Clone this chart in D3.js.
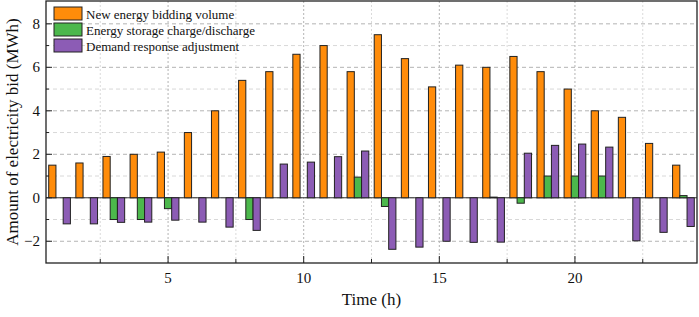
<!DOCTYPE html>
<html lang="en">
<head>
<meta charset="UTF-8">
<title>Electricity bid</title>
<script src="https://d3js.org/d3.v7.min.js"></script>
<style>
  body { margin: 0; background: #fff; }
  text { font-family: "Liberation Serif", "Times New Roman", serif; fill: #111; }
</style>
</head>
<body>
<svg id="chart" width="699" height="317"></svg>
<script>
// hours 1..24
const hours = d3.range(1, 25);
const newEnergy = [1.5, 1.6, 1.9, 2.0, 2.1, 3.0, 4.0, 5.4, 5.8, 6.6, 7.0, 5.8, 7.5, 6.4, 5.1, 6.1, 6.0, 6.5, 5.8, 5.0, 4.0, 3.7, 2.5, 1.5];
const storage = [0, 0, -1.0, -1.0, -0.5, 0, 0, -1.0, 0, 0, 0, 0.95, -0.4, 0, 0, 0, 0.03, -0.25, 1.0, 1.0, 1.0, 0, 0, 0.1];
const demand = [-1.2, -1.2, -1.13, -1.12, -1.03, -1.12, -1.35, -1.5, 1.55, 1.64, 1.89, 2.15, -2.37, -2.27, -2.0, -2.05, -2.04, 2.05, 2.41, 2.47, 2.33, -1.98, -1.59, -1.32];
const seriesNames = ["New energy bidding volume", "Energy storage charge/discharge", "Demand response adjustment"];
const seriesColors = ["#ff8c0a", "#4cb84c", "#8c5cb5"];
const xTicks = [5, 10, 15, 20];
const yTicks = [-2, 0, 2, 4, 6, 8];

const svg = d3.select("#chart");
const m = { left: 46, right: 2, top: 1, bottom: 54 };
const W = 699, H = 317;

const x = d3.scaleLinear().domain([0.5, 24.5]).range([m.left, W - m.right]);
const y = d3.scaleLinear().domain([-3, 9.05]).range([H - m.bottom, m.top]);

const g = svg.append("g");

// grid
const yMinor = d3.range(-3, 10, 1);
g.selectAll(".hgrid").data(yMinor.filter(v => v > -3 && v < 9)).enter()
  .append("line")
  .attr("x1", x(0.5)).attr("x2", x(24.5))
  .attr("y1", d => y(d)).attr("y2", d => y(d))
  .attr("stroke", d => d % 2 === 0 ? "#b4b4b4" : "#d8d8d8")
  .attr("stroke-dasharray", "4,3");

const xMinor = d3.range(2.5, 24.5, 2.5);
g.selectAll(".vgrid").data(xMinor).enter()
  .append("line")
  .attr("x1", d => x(d)).attr("x2", d => x(d))
  .attr("y1", y(-3)).attr("y2", y(9.05))
  .attr("stroke", d => d % 5 === 0 ? "#b4b4b4" : "#dadada")
  .attr("stroke-dasharray", "2,2");

// zero line
g.append("line")
  .attr("x1", x(0.5)).attr("x2", x(24.5))
  .attr("y1", y(0)).attr("y2", y(0))
  .attr("stroke", "#333").attr("stroke-width", 1);

// bars
const step = x(2) - x(1);
const bw = step * 0.8 / 3;
const allSeries = [newEnergy, storage, demand];
allSeries.forEach((vals, si) => {
  g.selectAll(".bar" + si).data(vals).enter()
    .append("rect")
    .attr("x", (d, i) => x(hours[i]) + (si - 1.5) * bw)
    .attr("width", bw)
    .attr("y", d => y(Math.max(0, d)))
    .attr("height", d => Math.abs(y(d) - y(0)))
    .attr("fill", seriesColors[si])
    .attr("stroke", "#222")
    .attr("stroke-width", 1);
});

// frame
g.append("rect")
  .attr("x", x(0.5)).attr("y", y(9.05))
  .attr("width", x(24.5) - x(0.5)).attr("height", y(-3) - y(9.05))
  .attr("fill", "none").attr("stroke", "#222").attr("stroke-width", 1.3);

// y ticks (inward)
g.selectAll(".ytick").data(yMinor.filter(v => v > -3 && v < 9)).enter()
  .append("line")
  .attr("x1", x(0.5)).attr("x2", d => x(0.5) + (d % 2 === 0 ? 6 : 3))
  .attr("y1", d => y(d)).attr("y2", d => y(d))
  .attr("stroke", "#222");
g.selectAll(".ylab").data(yTicks).enter()
  .append("text")
  .attr("x", x(0.5) - 6).attr("y", d => y(d) + 5)
  .attr("text-anchor", "end").attr("font-size", 15)
  .text(d => d < 0 ? "\u2212" + Math.abs(d) : d);

// x ticks (inward)
g.selectAll(".xtick").data(xMinor).enter()
  .append("line")
  .attr("x1", d => x(d)).attr("x2", d => x(d))
  .attr("y1", y(-3)).attr("y2", d => y(-3) - (d % 5 === 0 ? 7 : 4))
  .attr("stroke", "#222");
g.selectAll(".xlab").data(xTicks).enter()
  .append("text")
  .attr("x", d => x(d)).attr("y", y(-3) + 20)
  .attr("text-anchor", "middle").attr("font-size", 15)
  .text(d => d);

// axis titles
svg.append("text")
  .attr("x", (x(0.5) + x(24.5)) / 2).attr("y", 305)
  .attr("text-anchor", "middle").attr("font-size", 17)
  .text("Time (h)");
svg.append("text")
  .attr("transform", `translate(18, ${(y(-3) + y(9.05)) / 2}) rotate(-90)`)
  .attr("text-anchor", "middle").attr("font-size", 17)
  .text("Amount of electricity bid (MWh)");

// legend
const lg = svg.append("g").attr("transform", "translate(54, 7)");
seriesNames.forEach((name, i) => {
  lg.append("rect")
    .attr("x", 0).attr("y", i * 16)
    .attr("width", 28).attr("height", 13)
    .attr("fill", seriesColors[i]).attr("stroke", "#222");
  lg.append("text")
    .attr("x", 32).attr("y", i * 16 + 11.5)
    .attr("font-size", 13)
    .text(name);
});
</script>
</body>
</html>
